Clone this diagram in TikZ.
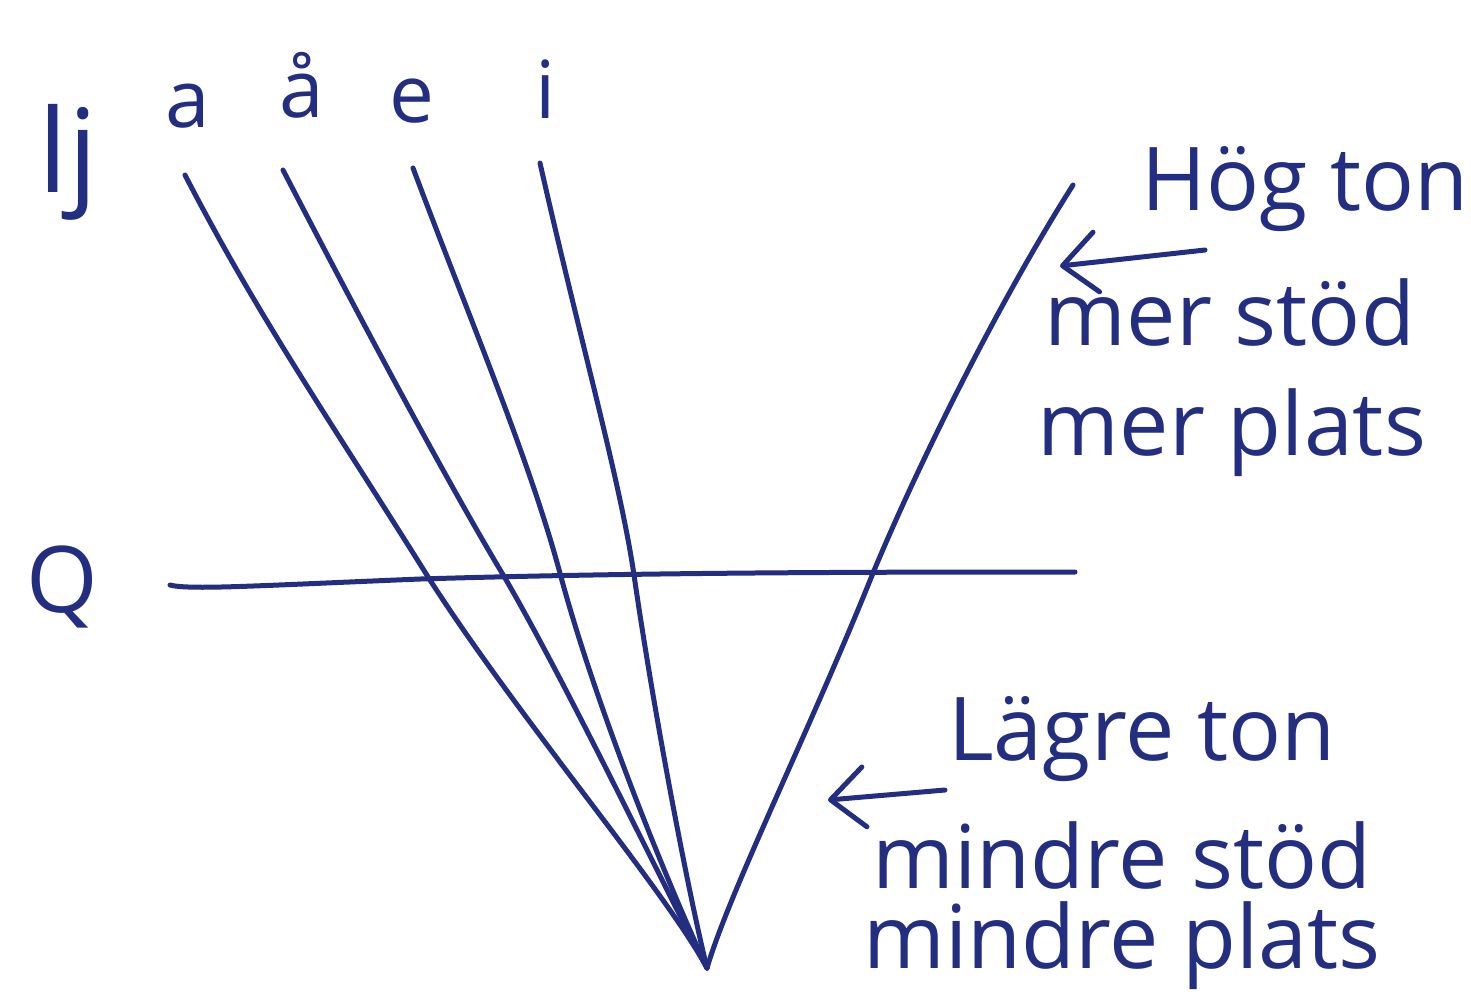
\documentclass[tikz,border=0pt]{standalone}
\usepackage{fontspec}
\setmainfont{Open Sans}
\usepackage{xcolor}
\usetikzlibrary{arrows.meta}
\definecolor{penblue}{RGB}{36,46,128}

\begin{document}
\begin{tikzpicture}[x=0.5pt,y=0.5pt,yscale=-1,xscale=1,
	pen/.style={draw=penblue,line width=2.5pt,line cap=round,line join=round},
	hand/.style={text=penblue,inner sep=0pt,anchor=base,font=\fontsize{44}{52}\selectfont},
	vowel/.style={hand,font=\fontsize{40}{48}\selectfont},
	pointer/.style={pen,-{Straight Barb[length=17pt,width=30pt,line width=2.5pt,round]}}]
	\useasboundingbox (0,0) rectangle (1471,993);
	
	% Text Node
	\node [hand,font=\fontsize{58}{64}\selectfont] (lj) at (68,192) {lj};
	\node [vowel] (a) at (188,127) {a};
	\node [vowel] (aa) at (302,117) {å};
	\node [vowel] (e) at (412,122) {e};
	\node [vowel] (i) at (546,118) {i};
	\node [hand,font=\fontsize{46}{52}\selectfont] (q) at (62,612) {Q};
	
	% Text Node
	\node [hand] (hog) at (1305,210) {Hög ton};
	\node [hand] (merstod) at (1230,345) {mer stöd};
	\node [hand] (merplats) at (1232,455) {mer plats};
	\node [hand] (lagre) at (1142,760) {Lägre ton};
	\node [hand] (minstod) at (1122,888) {mindre stöd};
	\node [hand] (minplats) at (1122,968) {mindre plats};
	
	% line ends
	\coordinate (ta) at (185,175);
	\coordinate (taa) at (283,170);
	\coordinate (te) at (413,168);
	\coordinate (ti) at (540,163);
	\coordinate (thog) at (1073,185);
	\coordinate (v) at (707,968);
	\coordinate (ql) at (170,585);
	\coordinate (qr) at (1075,572);
	
	%Curves
	\draw [pen] (ta) .. controls (260,320) and (330,420) .. (430,580) .. controls (520,720) and (665,890) .. (v);
	\draw [pen] (taa) .. controls (340,280) and (440,470) .. (505,578) .. controls (570,690) and (668,895) .. (v);
	\draw [pen] (te) .. controls (470,320) and (530,460) .. (561,577) .. controls (600,720) and (675,900) .. (v);
	\draw [pen] (ti) .. controls (580,340) and (620,480) .. (634,575) .. controls (655,720) and (690,900) .. (v);
	\draw [pen] (thog) .. controls (1000,300) and (920,460) .. (873,573) .. controls (810,730) and (730,890) .. (v);
	
	%Straight Lines
	\draw [pen] (ql) .. controls (190,590) and (250,586) .. (420,579) .. controls (650,572) and (900,572) .. (qr);
	
	% arrows
	\coordinate (hs) at (1205,250);
	\coordinate (he) at (1060,266);
	\coordinate (ls) at (945,790);
	\coordinate (le) at (828,800);
	\draw [pointer] (hs) -- (he);
	\draw [pointer] (ls) -- (le);
	
\end{tikzpicture}
\end{document}
